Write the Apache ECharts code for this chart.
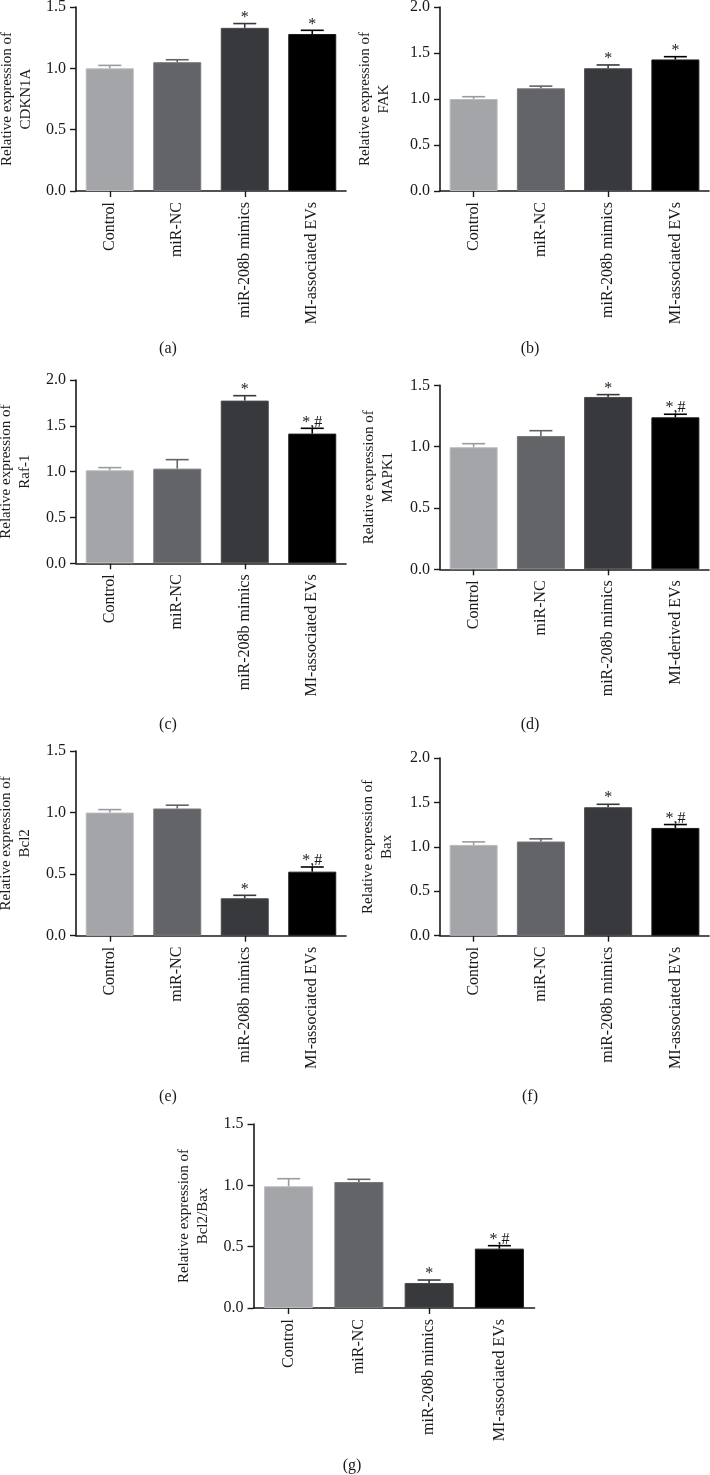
<!DOCTYPE html>
<html>
<head>
<meta charset="utf-8">
<script src="https://cdn.jsdelivr.net/npm/echarts@6/dist/echarts.min.js"></script>
<style>
html,body{margin:0;padding:0;background:#fff;}
#chart{width:710px;height:1475px;}
</style>
</head>
<body>
<div id="chart"></div>
<script>
// ---- data ----
const categories = ['Control', 'miR-NC', 'miR-208b mimics', 'MI-associated EVs'];
const categoriesD = ['Control', 'miR-NC', 'miR-208b mimics', 'MI-derived EVs'];

const cdkn1a = [1.00, 1.05, 1.33, 1.28];
const cdkn1aErr = [0.024, 0.020, 0.035, 0.030];
const fak = [1.00, 1.116, 1.334, 1.43];
const fakErr = [0.025, 0.024, 0.036, 0.030];
const raf1 = [1.015, 1.033, 1.775, 1.415];
const raf1Err = [0.029, 0.098, 0.054, 0.058];
const mapk1 = [0.995, 1.087, 1.405, 1.239];
const mapk1Err = [0.029, 0.043, 0.019, 0.025];
const bcl2 = [1.00, 1.033, 0.304, 0.52];
const bcl2Err = [0.024, 0.027, 0.024, 0.038];
const bax = [1.022, 1.06, 1.446, 1.213];
const baxErr = [0.034, 0.030, 0.033, 0.038];
const ratio = [0.992, 1.027, 0.204, 0.484];
const ratioErr = [0.062, 0.022, 0.024, 0.024];

const marksStar = ['', '', '*', '*'];
const marksHash = ['', '', '*', '*,#'];

const yTicks2 = [0, 0.5, 1.0, 1.5, 2.0];
const yTicks15 = [0, 0.5, 1.0, 1.5];

const panelLetters = ['(a)', '(b)', '(c)', '(d)', '(e)', '(f)', '(g)'];
const genes = ['CDKN1A', 'FAK', 'Raf-1', 'MAPK1', 'Bcl2', 'Bax', 'Bcl2/Bax'];

// ---- assembly ----
const panels = [
  { cats: categories, vals: cdkn1a, errs: cdkn1aErr, marks: marksStar, ticks: yTicks15 },
  { cats: categories, vals: fak, errs: fakErr, marks: marksStar, ticks: yTicks2 },
  { cats: categories, vals: raf1, errs: raf1Err, marks: marksHash, ticks: yTicks2 },
  { cats: categoriesD, vals: mapk1, errs: mapk1Err, marks: marksHash, ticks: yTicks15 },
  { cats: categories, vals: bcl2, errs: bcl2Err, marks: marksHash, ticks: yTicks15 },
  { cats: categories, vals: bax, errs: baxErr, marks: marksHash, ticks: yTicks2 },
  { cats: categories, vals: ratio, errs: ratioErr, marks: marksHash, ticks: yTicks15 }
];

// layout (pixels)
const layout = [
  { left: 76, top: 7, width: 270, bottom: 191, gap: 40, lx: 168, ly: 349 },
  { left: 440, top: 7, width: 269, bottom: 191, gap: 46, lx: 530, ly: 349 },
  { left: 76, top: 380, width: 270, bottom: 563.3, gap: 41, lx: 168, ly: 725 },
  { left: 440, top: 385.3, width: 269, bottom: 569.3, gap: 42, lx: 530, ly: 725 },
  { left: 76, top: 751, width: 270, bottom: 935.7, gap: 41, lx: 168, ly: 1097 },
  { left: 440, top: 758, width: 269, bottom: 935.7, gap: 43, lx: 530, ly: 1097 },
  { left: 253.5, top: 1124, width: 281, bottom: 1308, gap: 41, lx: 352, ly: 1466 }
];

const barFill = ['#a3a5a8', '#636468', '#38393d', '#000000'];
const barEdge = ['#b9bbbd', '#77787b', '#4a4b4f', '#1c1c1c'];
const FONT = '"Liberation Serif", serif';
const TXT = '#1a1a1a';

const option = { animation: false, backgroundColor: '#fff', grid: [], xAxis: [], yAxis: [], series: [], graphic: [] };

panels.forEach((p, k) => {
  const L = layout[k];
  const ymax = p.ticks[p.ticks.length - 1];
  option.grid.push({ left: L.left, top: L.top, width: L.width, height: L.bottom - L.top, outerBoundsMode: 'none' });
  option.xAxis.push({
    type: 'category', gridIndex: k, data: p.cats,
    axisLine: { show: true, lineStyle: { color: TXT, width: 1.6 } },
    axisTick: { show: true, alignWithLabel: true, length: 6, lineStyle: { color: TXT, width: 1.4 } },
    axisLabel: { show: false },
    splitLine: { show: false }
  });
  option.yAxis.push({
    type: 'value', gridIndex: k, min: 0, max: ymax, interval: 0.5,
    name: 'Relative expression of\n' + genes[k], nameLocation: 'middle', nameGap: L.gap, nameRotate: 90,
    nameTextStyle: { color: TXT, fontSize: 15, fontFamily: FONT, lineHeight: 19 },
    axisLine: { show: true, lineStyle: { color: TXT, width: 1.6 } },
    axisTick: { show: true, length: 6, lineStyle: { color: TXT, width: 1.4 } },
    axisLabel: { margin: 10, color: TXT, fontSize: 16, fontFamily: FONT, formatter: v => v.toFixed(1) },
    splitLine: { show: false }
  });
  option.series.push({
    type: 'bar', xAxisIndex: k, yAxisIndex: k, barWidth: k === 6 ? 49 : 48,
    data: p.vals.map((v, i) => ({ value: v, itemStyle: { color: barFill[i], borderColor: barEdge[i], borderWidth: 1 } })),
    z: 2
  });
  option.series.push({
    type: 'custom', xAxisIndex: k, yAxisIndex: k, z: 3,
    data: p.vals.map((v, i) => [i, v, p.errs[i]]),
    renderItem: (params, api) => {
      const i = api.value(0), v = api.value(1), e = api.value(2);
      const b = api.coord([i, v]);
      const t = api.coord([i, v + e]);
      const z0 = api.coord([i, 0]);
      const col = i === 0 ? '#9a9c9f' : barFill[i];
      const mark = p.marks[params.dataIndex];
      const children = [
        { type: 'line', shape: { x1: b[0], y1: b[1], x2: t[0], y2: t[1] }, style: { stroke: col, lineWidth: 1.6 } },
        { type: 'line', shape: { x1: t[0] - 11.5, y1: t[1], x2: t[0] + 11.5, y2: t[1] }, style: { stroke: col, lineWidth: 1.6 } },
        // category label, rotated to read bottom-to-top, ending just below the axis tick
        { type: 'text', x: z0[0], y: z0[1] + 11, rotation: Math.PI / 2,
          style: { text: p.cats[params.dataIndex], fill: TXT, font: '16px "Liberation Serif"', align: 'right', verticalAlign: 'middle' } }
      ];
      if (mark) {
        children.push({ type: 'text', x: t[0], y: t[1] + 2,
          style: { text: mark, fill: TXT, font: '16px "Liberation Serif"', align: 'center', verticalAlign: 'bottom' } });
      }
      return { type: 'group', children };
    }
  });
  option.graphic.push({
    type: 'text', x: L.lx, y: L.ly, z: 10,
    style: { text: panelLetters[k], fill: TXT, font: '16px "Liberation Serif"', align: 'center', verticalAlign: 'middle' }
  });
});

const chart = echarts.init(document.getElementById('chart'));
chart.setOption(option);
</script>
</body>
</html>
